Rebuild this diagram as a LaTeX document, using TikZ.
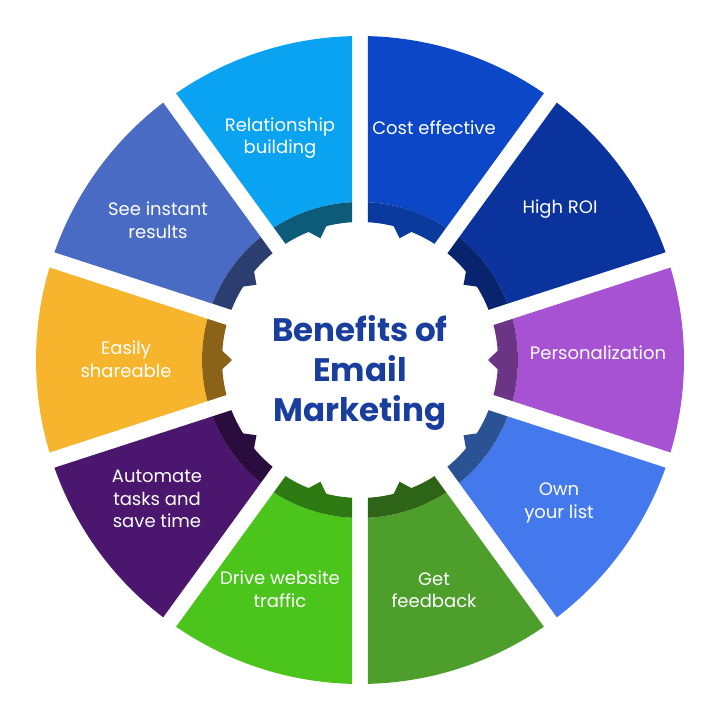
\documentclass[tikz,border=0pt]{standalone}
\usepackage{fontspec}
\setmainfont{Poppins}
\definecolor{titleblue}{HTML}{1A3E9E}
\definecolor{segA}{HTML}{0B47C7}\definecolor{bandA}{HTML}{0A3A9E}
\definecolor{segB}{HTML}{0A339E}\definecolor{bandB}{HTML}{08246E}
\definecolor{segC}{HTML}{A752D2}\definecolor{bandC}{HTML}{6B3484}
\definecolor{segD}{HTML}{4479EE}\definecolor{bandD}{HTML}{2C5296}
\definecolor{segE}{HTML}{4E9E2C}\definecolor{bandE}{HTML}{2D6417}
\definecolor{segF}{HTML}{4BC41B}\definecolor{bandF}{HTML}{2E7A12}
\definecolor{segG}{HTML}{4A166E}\definecolor{bandG}{HTML}{2A0C3E}
\definecolor{segH}{HTML}{F7B52E}\definecolor{bandH}{HTML}{8A6218}
\definecolor{segI}{HTML}{4A6BC3}\definecolor{bandI}{HTML}{2C3E70}
\definecolor{segJ}{HTML}{09A3F2}\definecolor{bandJ}{HTML}{0D5B78}
\begin{document}
\begin{tikzpicture}[x=1pt,y=1pt,
  lbl/.style={text=white,font=\fontsize{18}{22.5}\selectfont,align=center,inner sep=0pt},
  ttl/.style={text=titleblue,font=\fontsize{32.5}{40}\selectfont\bfseries,align=center,inner sep=0pt}]
\useasboundingbox (-360,-360) rectangle (360,360);
\fill[white] (-360,-360) rectangle (360,360);
\def\Ro{324}\def\Rb{158}\def\Rw{138}\def\Rt{128}\def\gap{8}
\pgfmathsetmacro{\dO}{asin(\gap/\Ro)}
\pgfmathsetmacro{\dB}{asin(\gap/\Rb)}
\pgfmathsetmacro{\dW}{asin(\gap/\Rw)}
\foreach \t/\sc/\bc in {72/segA/bandA,36/segB/bandB,0/segC/bandC,-36/segD/bandD,-72/segE/bandE,-108/segF/bandF,-144/segG/bandG,180/segH/bandH,144/segI/bandI,108/segJ/bandJ}{
  \pgfmathsetmacro{\aO}{\t+18-\dO}\pgfmathsetmacro{\bO}{\t-18+\dO}
  \pgfmathsetmacro{\aB}{\t+18-\dB}\pgfmathsetmacro{\bB}{\t-18+\dB}
  \pgfmathsetmacro{\aW}{\t+18-\dW}\pgfmathsetmacro{\bW}{\t-18+\dW}
  \pgfmathsetmacro{\tl}{\t+4.2}\pgfmathsetmacro{\tr}{\t-4.2}
  \fill[\sc] (\aO:\Ro) arc[start angle=\aO,end angle=\bO,radius=\Ro] -- (\bB:\Rb) arc[start angle=\bB,end angle=\aB,radius=\Rb] -- cycle;
  \fill[\bc] (\aB:\Rb) arc[start angle=\aB,end angle=\bB,radius=\Rb] -- (\bW:\Rw) arc[start angle=\bW,end angle=\aW,radius=\Rw] -- cycle;
  \fill[\bc] (\tl:\Rw+1) -- (\t:\Rt) -- (\tr:\Rw+1) -- cycle;
}
\node[ttl] (title) at (0,-13) {Benefits of\\Email\\Marketing};
\node[lbl] (rel) at (-80,222) {Relationship\\building};
\node[lbl] (cost) at (74,232) {Cost effective};
\node[lbl] (roi) at (200,151) {High ROI};
\node[lbl] (pers) at (238,7) {Personalization};
\node[lbl] (own) at (199,-143) {Own\\your list};
\node[lbl] (feed) at (74,-230) {Get\\feedback};
\node[lbl] (drive) at (-80,-229) {Drive website\\traffic};
\node[lbl] (auto) at (-203,-139) {Automate\\tasks and\\save time};
\node[lbl] (share) at (-234,1) {Easily\\shareable};
\node[lbl] (inst) at (-202,140) {See instant\\results};
\end{tikzpicture}
\end{document}
